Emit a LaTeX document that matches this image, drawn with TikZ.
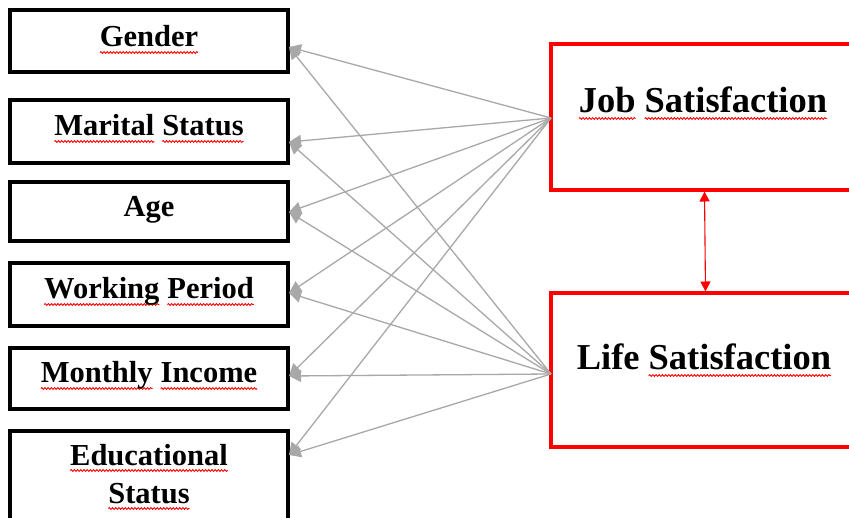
\documentclass[tikz,border=0pt]{standalone}
\usepackage{fontspec}
\setmainfont{Liberation Serif}
\usetikzlibrary{arrows.meta,decorations.pathmorphing}
\definecolor{lgray}{HTML}{A8A8A8}
\newcommand\wv[1]{\setbox0\hbox{#1}\makebox[0pt][l]{\tikz[overlay]\draw[red,line width=0.9pt,decorate,decoration={snake,amplitude=0.9pt,segment length=3.2pt}] (0pt,-5.5pt) -- (\wd0,-5.5pt);}\box0}
\begin{document}
\begin{tikzpicture}[x=1pt,y=1pt,
  lbox/.style={draw=black,line width=3.2pt,minimum width=278pt,inner sep=0pt},
  rbox/.style={draw=red,line width=3.2pt,minimum width=302pt,inner sep=0pt},
  ltxt/.style={anchor=base,inner sep=0pt,font=\fontsize{30.5}{34}\selectfont\bfseries},
  rtxt/.style={anchor=base,inner sep=0pt,font=\fontsize{36.5}{40}\selectfont\bfseries},
  link/.style={draw=lgray,line width=1.3pt,-{Triangle[length=12pt,width=12pt]}}
]
\useasboundingbox (0,0) rectangle (849,-518);
\clip (0,0) rectangle (849,-518);
\fill[white] (0,0) rectangle (849,-518);
% left boxes
\node[lbox,minimum height=62pt] (gender) at (149,-41) {};
\node[lbox,minimum height=63pt] (marital) at (149,-131.5) {};
\node[lbox,minimum height=59pt] (age) at (149,-211.5) {};
\node[lbox,minimum height=63pt] (work) at (149,-294.5) {};
\node[lbox,minimum height=61pt] (income) at (149,-378.5) {};
\node[lbox,minimum height=110pt] (edu) at (149,-486) {};
% left texts
\node[ltxt] (tg) at (149,-47) {\wv{Gender}};
\node[ltxt] (tm) at (149,-136) {\wv{Marital}\hspace{8pt}\wv{Status}};
\node[ltxt] (ta) at (149,-217) {Age};
\node[ltxt] (tw) at (149,-299) {\wv{Working}\hspace{8pt}\wv{Period}};
\node[ltxt] (ti) at (149,-383) {\wv{Monthly}\hspace{8pt}\wv{Income}};
\node[ltxt] (te1) at (149,-465) {\wv{Educational}};
\node[ltxt] (te2) at (149,-503) {\wv{Status}};
% right boxes
\node[rbox,minimum height=146pt] (job) at (702,-117) {};
\node[rbox,minimum height=154pt] (life) at (702,-370) {};
\node[rtxt] (tj) at (703,-113) {\wv{Job}\hspace{9pt}\wv{Satisfaction}};
\node[rtxt] (tl) at (704,-370) {Life\hspace{9pt}\wv{Satisfaction}};
% connector ends
\coordinate (js) at (551,-118);
\coordinate (ls) at (551,-374);
\coordinate (pg) at (289,-47);
\coordinate (pm) at (289,-142);
\coordinate (pa) at (289,-212);
\coordinate (pw) at (289,-293);
\coordinate (pi) at (289,-376);
\coordinate (pe) at (289,-455);
\foreach \t in {pg,pm,pa,pw,pi,pe}{
  \draw[link] (js) -- (\t);
  \draw[link] (ls) -- (\t);
}
% red double arrow
\coordinate (ra) at (704.5,-191.5);
\coordinate (rb) at (705.5,-291.5);
\draw[red,line width=1.1pt,{Triangle[length=10pt,width=10pt]}-{Triangle[length=10pt,width=10pt]}] (ra) -- (rb);
\end{tikzpicture}
\end{document}
